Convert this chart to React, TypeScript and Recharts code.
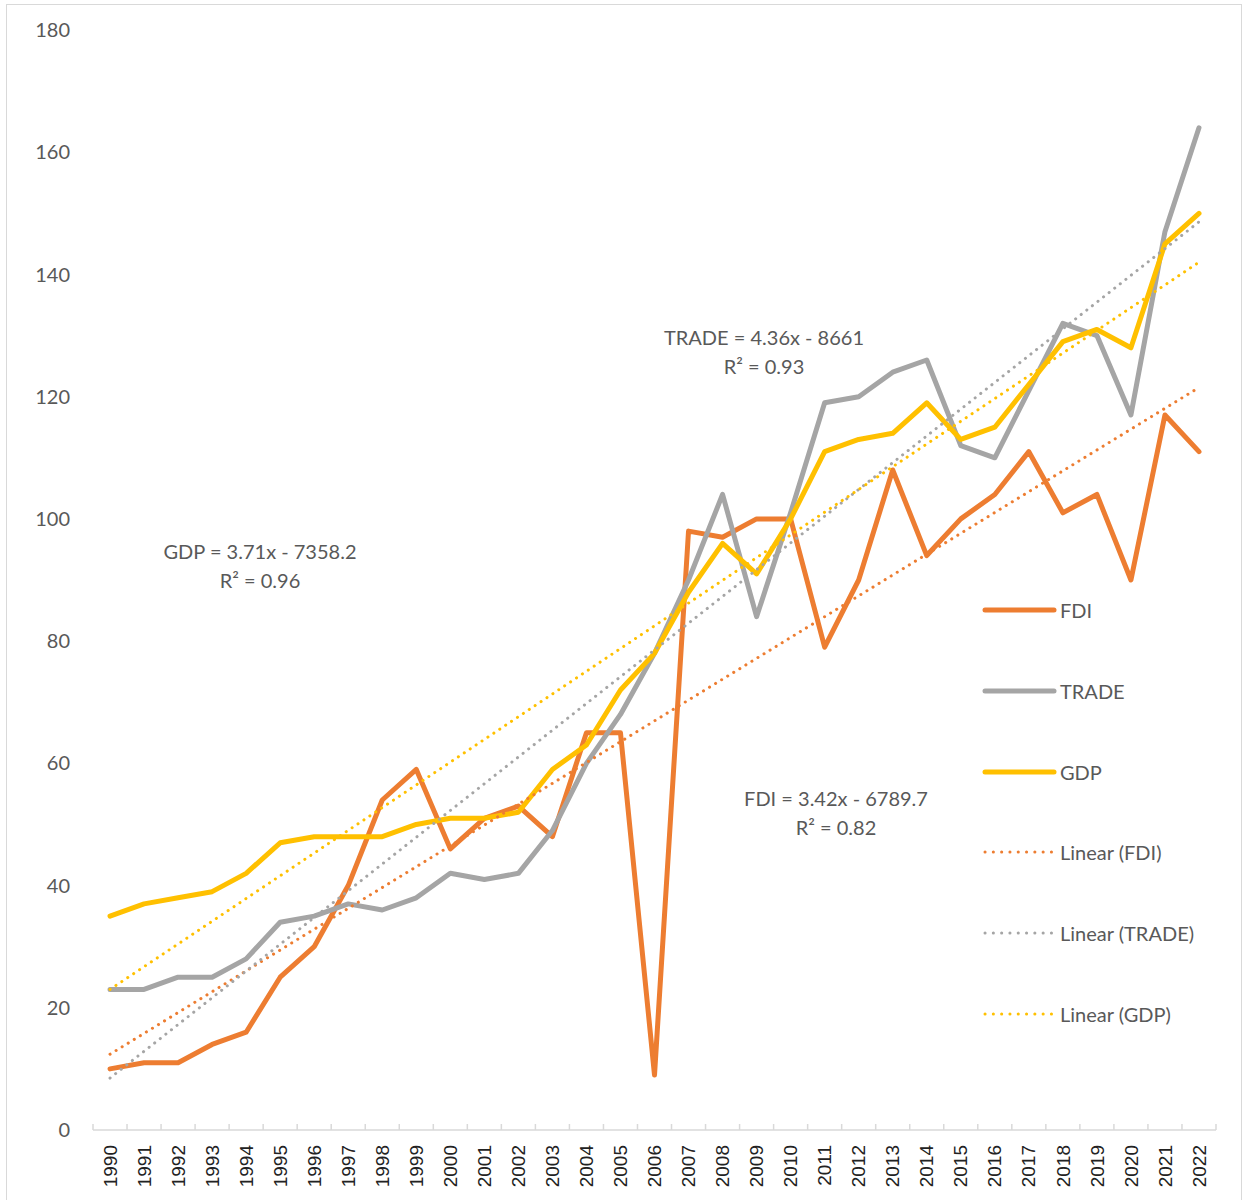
import { LineChart, Line, XAxis, YAxis } from 'recharts'

const years = [
  1990, 1991, 1992, 1993, 1994, 1995, 1996, 1997, 1998, 1999, 2000, 2001, 2002, 2003, 2004, 2005,
  2006, 2007, 2008, 2009, 2010, 2011, 2012, 2013, 2014, 2015, 2016, 2017, 2018, 2019, 2020, 2021, 2022,
]
const fdi = [
  10, 11, 11, 14, 16, 25, 30, 40, 54, 59, 46, 51, 53, 48, 65, 65,
  9, 98, 97, 100, 100, 79, 90, 108, 94, 100, 104, 111, 101, 104, 90, 117, 111,
]
const trade = [
  23, 23, 25, 25, 28, 34, 35, 37, 36, 38, 42, 41, 42, 49, 60, 68,
  78, 90, 104, 84, 101, 119, 120, 124, 126, 112, 110, 121, 132, 130, 117, 147, 164,
]
const gdp = [
  35, 37, 38, 39, 42, 47, 48, 48, 48, 50, 51, 51, 52, 59, 63, 72,
  78, 88, 96, 91, 100, 111, 113, 114, 119, 113, 115, 122, 129, 131, 128, 145, 150,
]
// trendline values read at first and last year
const fdiTrend = [12.4, 121.5]
const tradeTrend = [8.5, 148.6]
const gdpTrend = [23, 142]
const yTicks = [0, 20, 40, 60, 80, 100, 120, 140, 160, 180]

const COLORS = { fdi: '#ED7D31', trade: '#A5A5A5', gdp: '#FFC000' }
const TEXT = '#595959'
const FONT = 'Lato, "Open Sans", sans-serif'

const last = years.length - 1
const data = years.map((year, i) => ({
  year: String(year),
  FDI: fdi[i],
  TRADE: trade[i],
  GDP: gdp[i],
  fdiT: i === 0 ? fdiTrend[0] : i === last ? fdiTrend[1] : null,
  tradeT: i === 0 ? tradeTrend[0] : i === last ? tradeTrend[1] : null,
  gdpT: i === 0 ? gdpTrend[0] : i === last ? gdpTrend[1] : null,
}))

const BAND = (1216 - 93) / years.length

const legendItems = [
  { label: 'FDI', color: COLORS.fdi, dotted: false },
  { label: 'TRADE', color: COLORS.trade, dotted: false },
  { label: 'GDP', color: COLORS.gdp, dotted: false },
  { label: 'Linear (FDI)', color: COLORS.fdi, dotted: true },
  { label: 'Linear (TRADE)', color: COLORS.trade, dotted: true },
  { label: 'Linear (GDP)', color: COLORS.gdp, dotted: true },
]

const equations = [
  { lines: ['TRADE = 4.36x - 8661', 'R² = 0.93'], cx: 764, top: 323 },
  { lines: ['GDP = 3.71x - 7358.2', 'R² = 0.96'], cx: 260, top: 537 },
  { lines: ['FDI = 3.42x - 6789.7', 'R² = 0.82'], cx: 836, top: 784 },
]

function YearTick(props: any) {
  const { x, y, payload, index } = props
  return (
    <g>
      <line x1={x - BAND / 2} x2={x - BAND / 2} y1={y - 6} y2={y} stroke="#D9D9D9" strokeWidth={1.5} />
      {index === last && (
        <line x1={x + BAND / 2} x2={x + BAND / 2} y1={y - 6} y2={y} stroke="#D9D9D9" strokeWidth={1.5} />
      )}
      <text
        transform={`translate(${x},${y + 15}) rotate(-90)`}
        textAnchor="end"
        dy="0.35em"
        fontSize={19}
        fontFamily='"Liberation Sans", Arial, sans-serif'
        fill="#222"
      >
        {payload.value}
      </text>
    </g>
  )
}

function ChartLegend() {
  return (
    <div style={{ position: 'absolute', left: 982, top: 570, fontFamily: FONT }}>
      {legendItems.map((it) => (
        <div key={it.label} style={{ display: 'flex', alignItems: 'center', height: 80.7 }}>
          <svg width={76} height={10}>
            {it.dotted ? (
              <line x1={3} x2={72} y1={5} y2={5} stroke={it.color} strokeWidth={3} strokeDasharray="0.1 8.2" strokeLinecap="round" />
            ) : (
              <line x1={3} x2={72} y1={5} y2={5} stroke={it.color} strokeWidth={5} strokeLinecap="round" />
            )}
          </svg>
          <span style={{ fontSize: 20, color: TEXT, marginLeft: 2 }}>{it.label}</span>
        </div>
      ))}
    </div>
  )
}

export default function App() {
  return (
    <div style={{ position: 'absolute', left: 0, top: 0, width: 1247, height: 1200, background: '#fff' }}>
      <div
        style={{
          position: 'absolute',
          left: 6,
          top: 4,
          width: 1236,
          height: 1200,
          border: '1.5px solid #D9D9D9',
          boxSizing: 'border-box',
        }}
      />
      <LineChart width={1247} height={1200} data={data} margin={{ top: 30, right: 31, bottom: 0, left: 0 }}>
        <XAxis
          dataKey="year"
          interval={0}
          height={70}
          padding={{ left: BAND / 2, right: BAND / 2 }}
          tickLine={false}
          tickSize={0}
          tickMargin={0}
          axisLine={{ stroke: '#D9D9D9', strokeWidth: 1.5 }}
          tick={<YearTick />}
        />
        <YAxis
          width={93}
          domain={[0, 180]}
          ticks={yTicks}
          axisLine={false}
          tickLine={false}
          tickSize={0}
          tickMargin={23}
          tick={{ fontSize: 20, fill: TEXT, fontFamily: FONT }}
        />
        <Line dataKey="FDI" stroke={COLORS.fdi} strokeWidth={5} dot={false} strokeLinejoin="round" strokeLinecap="round" isAnimationActive={false} />
        <Line dataKey="TRADE" stroke={COLORS.trade} strokeWidth={5} dot={false} strokeLinejoin="round" strokeLinecap="round" isAnimationActive={false} />
        <Line dataKey="GDP" stroke={COLORS.gdp} strokeWidth={5} dot={false} strokeLinejoin="round" strokeLinecap="round" isAnimationActive={false} />
        <Line dataKey="fdiT" connectNulls stroke={COLORS.fdi} strokeWidth={3} strokeDasharray="0.1 7" strokeLinecap="round" dot={false} isAnimationActive={false} />
        <Line dataKey="tradeT" connectNulls stroke={COLORS.trade} strokeWidth={3} strokeDasharray="0.1 7" strokeLinecap="round" dot={false} isAnimationActive={false} />
        <Line dataKey="gdpT" connectNulls stroke={COLORS.gdp} strokeWidth={3} strokeDasharray="0.1 7" strokeLinecap="round" dot={false} isAnimationActive={false} />
      </LineChart>
      <ChartLegend />
      {equations.map((eq) => (
        <div
          key={eq.lines[0]}
          style={{
            position: 'absolute',
            left: eq.cx - 150,
            top: eq.top,
            width: 300,
            textAlign: 'center',
            fontFamily: FONT,
            fontSize: 20,
            lineHeight: '29px',
            color: TEXT,
          }}
        >
          {eq.lines.map((l) => (
            <div key={l}>{l}</div>
          ))}
        </div>
      ))}
    </div>
  )
}
